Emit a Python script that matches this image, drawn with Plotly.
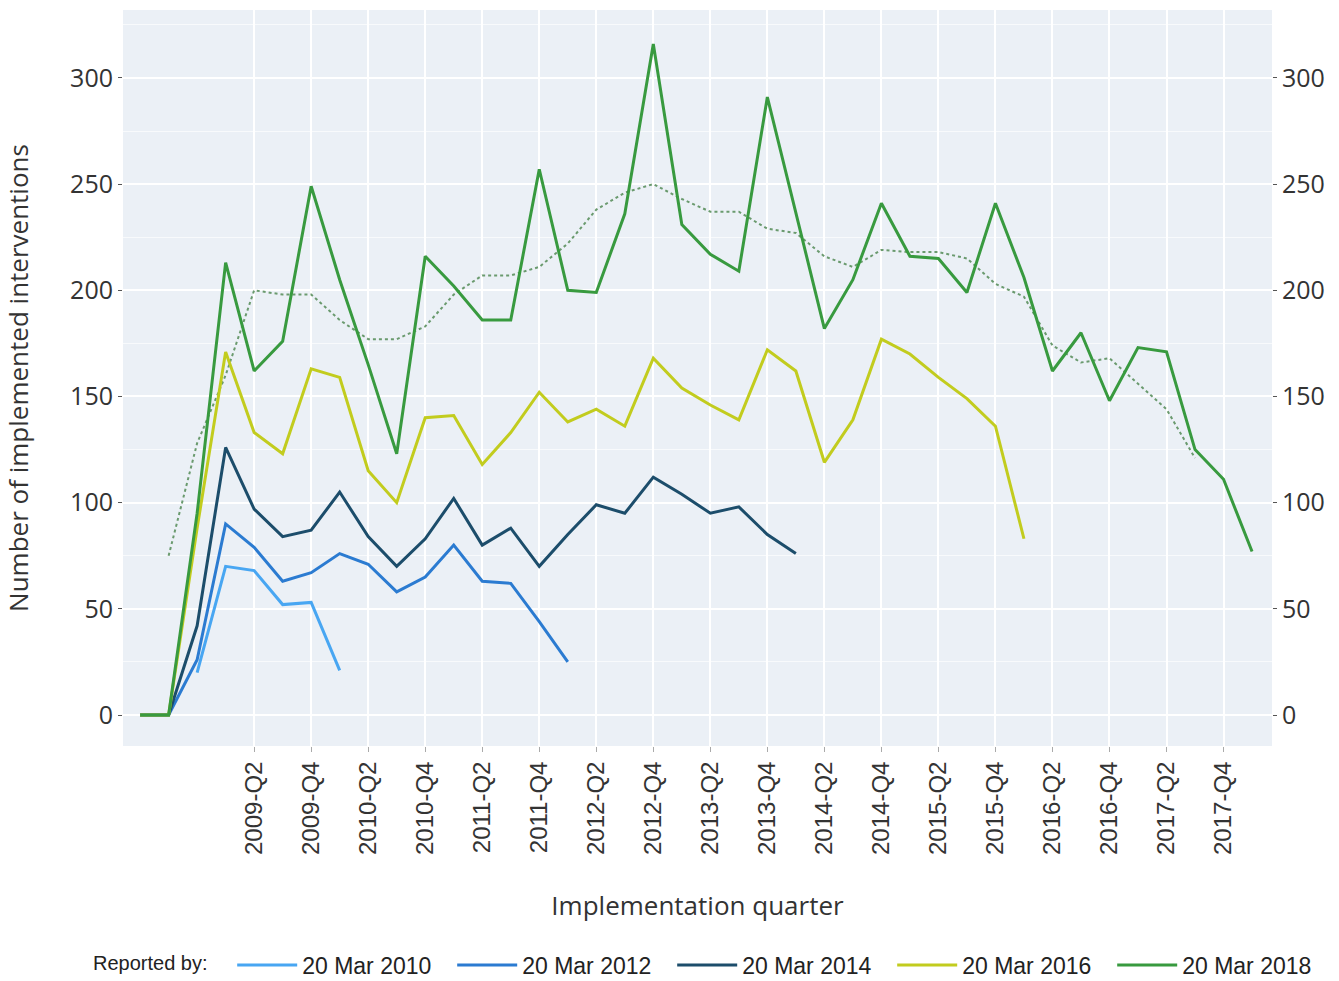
import plotly.graph_objects as go

quarters = ["2008-Q2", "2008-Q3", "2008-Q4",
            "2009-Q1", "2009-Q2", "2009-Q3", "2009-Q4",
            "2010-Q1", "2010-Q2", "2010-Q3", "2010-Q4",
            "2011-Q1", "2011-Q2", "2011-Q3", "2011-Q4",
            "2012-Q1", "2012-Q2", "2012-Q3", "2012-Q4",
            "2013-Q1", "2013-Q2", "2013-Q3", "2013-Q4",
            "2014-Q1", "2014-Q2", "2014-Q3", "2014-Q4",
            "2015-Q1", "2015-Q2", "2015-Q3", "2015-Q4",
            "2016-Q1", "2016-Q2", "2016-Q3", "2016-Q4",
            "2017-Q1", "2017-Q2", "2017-Q3", "2017-Q4",
            "2018-Q1"]

tick_labels = ["2009-Q2", "2009-Q4", "2010-Q2", "2010-Q4", "2011-Q2", "2011-Q4",
               "2012-Q2", "2012-Q4", "2013-Q2", "2013-Q4", "2014-Q2", "2014-Q4",
               "2015-Q2", "2015-Q4", "2016-Q2", "2016-Q4", "2017-Q2", "2017-Q4"]

y_ticks = [0, 50, 100, 150, 200, 250, 300]

# Reported by 20 Mar 2010 (starts 2008-Q4)
q_2010 = quarters[2:8]
v_2010 = [20, 70, 68, 52, 53, 21]

# Reported by 20 Mar 2012
q_2012 = quarters[0:16]
v_2012 = [0, 0, 26, 90, 79, 63, 67, 76, 71, 58, 65, 80, 63, 62, 44, 25]

# Reported by 20 Mar 2014
q_2014 = quarters[0:24]
v_2014 = [0, 0, 42, 126, 97, 84, 87, 105, 84, 70, 83, 102, 80, 88, 70, 85,
          99, 95, 112, 104, 95, 98, 85, 76]

# Reported by 20 Mar 2016
q_2016 = quarters[0:32]
v_2016 = [0, 0, 88, 171, 133, 123, 163, 159, 115, 100, 140, 141, 118, 133, 152, 138,
          144, 136, 168, 154, 146, 139, 172, 162, 119, 139, 177, 170, 159, 149, 136, 83]

# Reported by 20 Mar 2018
q_2018 = quarters[0:40]
v_2018 = [0, 0, 95, 213, 162, 176, 249, 205, 165, 123, 216, 202, 186, 186, 257, 200,
          199, 236, 316, 231, 217, 209, 291, 236, 182, 205, 241, 216, 215, 199, 241, 206,
          162, 180, 148, 173, 171, 125, 111, 77]

# Trend (dotted) for 20 Mar 2018
q_trend = quarters[1:38]
v_trend = [75, 128, 160, 200, 198, 198, 186, 177, 177, 183, 198, 207, 207, 211, 222,
           238, 246, 250, 243, 237, 237, 229, 227, 216, 211, 219, 218, 218, 215, 203,
           197, 174, 166, 168, 156, 144, 121]

series = [
    ("20 Mar 2010", q_2010, v_2010, "#48a6f2"),
    ("20 Mar 2012", q_2012, v_2012, "#2b7bd1"),
    ("20 Mar 2014", q_2014, v_2014, "#1c4d6b"),
    ("20 Mar 2016", q_2016, v_2016, "#c2cc1e"),
    ("20 Mar 2018", q_2018, v_2018, "#389a3f"),
]

fig = go.Figure()

fig.add_trace(go.Scatter(x=q_trend, y=v_trend, mode="lines",
                         line=dict(color="#6a9a6e", width=2, dash="dot"),
                         showlegend=False, hoverinfo="skip"))

for name, qx, vy, col in series:
    fig.add_trace(go.Scatter(x=qx, y=vy, mode="lines", name=name,
                             line=dict(color=col, width=3)))

# dummy trace so the mirrored right axis is drawn
fig.add_trace(go.Scatter(x=[quarters[0]], y=[None], yaxis="y2",
                         showlegend=False, hoverinfo="skip"))

yr = [-14.6, 332]
ytickfont = dict(family="Open Sans", size=25, color="#333")
xtickfont = dict(family="Liberation Sans", size=24, color="#333")
titlefont = dict(family="Open Sans", size=26, color="#333")

fig.update_layout(
    width=1339, height=981,
    paper_bgcolor="white",
    plot_bgcolor="#ebf0f6",
    margin=dict(l=123, r=67, t=10, b=235),
    font=dict(family="Open Sans", color="#333"),
    xaxis=dict(
        type="category",
        categoryorder="array", categoryarray=quarters,
        range=[-0.6, 39.7],
        tickmode="array", tickvals=tick_labels, ticktext=tick_labels,
        tickangle=-90, tickfont=xtickfont,
        ticks="outside", ticklen=5, tickcolor="#aaa",
        showgrid=True, gridcolor="white", gridwidth=1.5,
        zeroline=False,
        title=dict(text="Implementation quarter", font=titlefont, standoff=42),
    ),
    yaxis=dict(
        range=yr, tickvals=y_ticks,
        tickfont=ytickfont, ticks="outside", ticklen=4, tickcolor="#555",
        showgrid=True, gridcolor="white", gridwidth=1.5,
        minor=dict(tickvals=[25, 75, 125, 175, 225, 275, 325], showgrid=True,
                   gridcolor="rgba(255,255,255,0.65)", gridwidth=1, ticks=""),
        zeroline=False,
        title=dict(text="Number of implemented interventions", font=titlefont, standoff=36),
    ),
    yaxis2=dict(
        overlaying="y", side="right", range=yr,
        tickvals=y_ticks,
        tickfont=ytickfont, ticks="outside", ticklen=4, tickcolor="#555",
        showgrid=False, zeroline=False,
    ),
    legend=dict(
        orientation="h",
        xref="container", x=91 / 1339, xanchor="left",
        yref="container", y=16 / 981, yanchor="middle",
        title=dict(text="Reported by:   ", side="left",
                   font=dict(family="Liberation Sans", size=20, color="#222")),
        font=dict(family="Liberation Sans", size=23, color="#222"),
        itemwidth=60,
        entrywidth=145, entrywidthmode="pixels",
        bgcolor="rgba(0,0,0,0)",
    ),
)

fig.write_html("out.html", config={"displayModeBar": False},
               post_script="document.body.style.margin='0px';")
